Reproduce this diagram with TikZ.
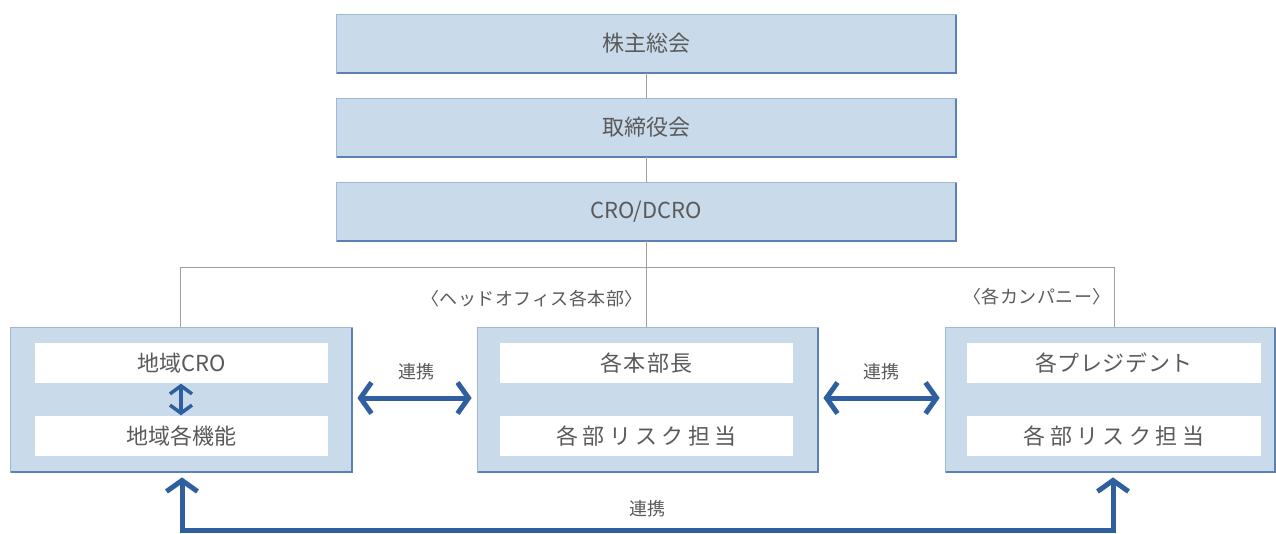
\documentclass[tikz,border=0pt]{standalone}
\usepackage{fontspec}
\newfontfamily\cjk{Noto Sans CJK JP}
\usetikzlibrary{arrows.meta}
\definecolor{boxfill}{HTML}{C9DAEB}
\definecolor{boxline}{HTML}{9FB7D4}
\definecolor{shadowc}{HTML}{5B80B2}
\definecolor{txt}{HTML}{5A5A5A}
\definecolor{conn}{HTML}{A0A0A0}
\definecolor{arr}{HTML}{2F5F9E}
\newcommand{\ls}[2]{{\addfontfeature{LetterSpace=#1}#2}}
\tikzset{
  x=1pt, y=-1pt,
  BB/.tip={Straight Barb[length=11pt,width=31pt]},
  sB/.tip={Straight Barb[length=8pt,width=22pt]},
  topbox/.style={draw=boxline, fill=boxfill, line width=0.8pt, minimum width=620pt, minimum height=59pt, inner sep=0pt,
    font=\cjk\fontsize{22}{26}\selectfont, text=txt},
  bigbox/.style={draw=boxline, fill=boxfill, line width=0.8pt, minimum height=145pt, inner sep=0pt},
  inbox/.style={fill=white, minimum height=40pt, inner sep=0pt, font=\cjk\fontsize{22}{26}\selectfont, text=txt},
  lab/.style={font=\cjk\fontsize{18}{21}\selectfont, text=txt, inner sep=0pt},
  conline/.style={draw=conn, line width=0.9pt},
  bluearrow/.style={draw=arr, line width=5pt},
}
\newcommand{\shadowbox}[1]{%
  \draw[shadowc, line width=2pt] ([xshift=1pt]#1.south west) -- (#1.south east) -- ([yshift=-1pt]#1.north east);}
\begin{document}
\begin{tikzpicture}
\useasboundingbox (0,0) rectangle (1276,534);
\fill[white] (0,0) rectangle (1276,534);

\coordinate (hl) at (180,267);
\coordinate (hr) at (1114,267);
\coordinate (hc) at (646,267);

\node[topbox] (gm) at (646,43.5) {株主総会};
\node[topbox] (bd) at (646,127.5) {取締役会};
\node[topbox] (cro) at (646,211.5) {CRO/DCRO};
\shadowbox{gm}
\shadowbox{bd}
\shadowbox{cro}

\node[bigbox, minimum width=342pt] (L) at (181,399.5) {};
\node[bigbox, minimum width=341pt] (M) at (647.5,399.5) {};
\node[bigbox, minimum width=330pt] (R) at (1110,399.5) {};
\shadowbox{L}
\shadowbox{M}
\shadowbox{R}

\draw[conline] (gm.south) -- (bd.north);
\draw[conline] (bd.south) -- (cro.north);
\draw[conline] (cro.south) -- (hc);
\draw[conline] (hc) -- (M.north -| hc);
\draw[conline] (hl) -- (hr);
\draw[conline] (hl) -- (L.north -| hl);
\draw[conline] (hr) -- (R.north -| hr);

\node[inbox, minimum width=293pt] (L1) at (181.5,363) {地域CRO};
\node[inbox, minimum width=293pt] (L2) at (181.5,436) {地域各機能};
\node[inbox, minimum width=293pt] (M1) at (646.5,363) {\ls{5}{各本部長}};
\node[inbox, minimum width=293pt] (M2) at (646.5,436) {\ls{20}{各部リスク担当}};
\node[inbox, minimum width=294pt] (R1) at (1114,363) {\ls{3}{各プレジデント}};
\node[inbox, minimum width=294pt] (R2) at (1114,436) {\ls{20}{各部リスク担当}};

\node[lab] (hq) at (532,299) {\ls{3}{〈ヘッドオフィス各本部〉}};
\node[lab] (co) at (1037,297) {\ls{3}{〈各カンパニー〉}};

\coordinate (vx) at (181,0);
\coordinate (ay) at (0,398);
\draw[bluearrow, line width=3.5pt, sB-sB] ([yshift=-0.5pt]L1.south -| vx) -- ([yshift=0.5pt]L2.north -| vx);
\draw[bluearrow, BB-BB] ([xshift=5pt]L.east |- ay) -- ([xshift=-5pt]M.west |- ay);
\draw[bluearrow, BB-BB] ([xshift=5pt]M.east |- ay) -- ([xshift=-5pt]R.west |- ay);
\node[lab] (c1) at (416,372) {連携};
\node[lab] (c2) at (881,372) {連携};

\coordinate (bl) at (182,530);
\coordinate (br) at (1113,530);
\draw[bluearrow, BB-BB, line join=miter] ([yshift=-5pt]L.south -| bl) -- (bl) -- (br) -- ([yshift=-5pt]R.south -| br);
\node[lab] (c3) at (647,509) {連携};
\end{tikzpicture}
\end{document}
